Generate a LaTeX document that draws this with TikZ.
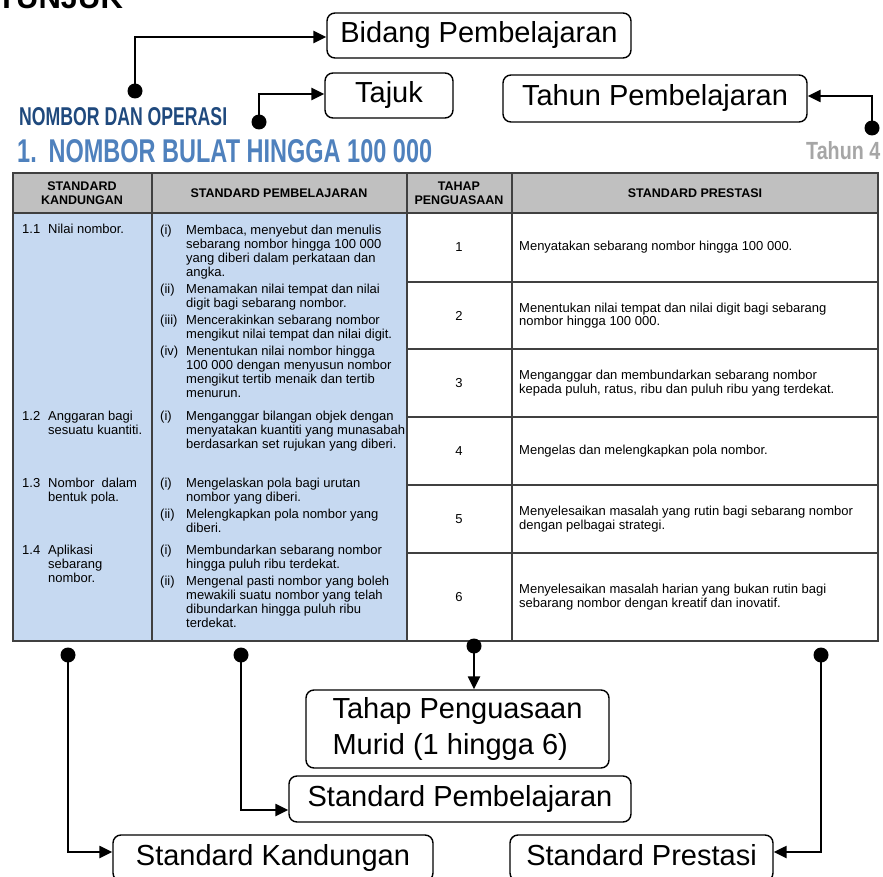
\documentclass[tikz,border=0pt]{standalone}
\usepackage{fontspec}
\usepackage{graphicx}
\setmainfont{Liberation Sans}
\usetikzlibrary{arrows.meta}
\definecolor{hdrgray}{HTML}{C0C0C0}
\definecolor{cellblue}{HTML}{C6D9F1}
\definecolor{darkblue}{HTML}{1F497D}
\definecolor{midblue}{HTML}{4F81BD}
\definecolor{tgray}{HTML}{A6A6A6}
\definecolor{rulegray}{HTML}{404040}
\begin{document}
\begin{tikzpicture}[x=1pt,y=-1pt,
  lbl/.style={draw=black,line width=1.4pt,rounded corners=8pt,font=\fontsize{29}{36}\selectfont,inner sep=0pt,align=center},
  conn/.style={line width=2.4pt,-{Triangle[length=13pt,width=12pt]}},
  dotmark/.style={circle,fill=black,inner sep=0pt,minimum size=15pt},
  body/.style={font=\fontsize{13}{14}\selectfont,inner sep=0pt,anchor=north west},
  pres/.style={font=\fontsize{13}{13.5}\selectfont,inner sep=0pt,anchor=west,align=left},
  num/.style={font=\fontsize{13}{14}\selectfont,inner sep=0pt},
  hdr/.style={font=\fontsize{12.5}{14}\selectfont\bfseries,align=center,inner sep=0pt},
  rule/.style={draw=rulegray,line width=1.3pt}
]
\path[use as bounding box] (0,0) rectangle (883,877);
\clip (0,0) rectangle (883,877);

% top cut-off heading
\node[anchor=base west,inner sep=0pt,font=\fontsize{31}{31}\selectfont\bfseries] (tunjuk) at (-3,9) {TUNJUK};

% titles
\node[anchor=north west,inner sep=0pt,text=darkblue] (sec) at (19,107) {\resizebox{208pt}{18pt}{\bfseries NOMBOR DAN OPERASI}};
\node[anchor=north west,inner sep=0pt,text=midblue] (title) at (17,139) {\resizebox{415pt}{23pt}{\bfseries 1.\enspace NOMBOR BULAT HINGGA 100 000}};
\node[anchor=north west,inner sep=0pt,text=tgray] (tahun4) at (806,141) {\resizebox{74pt}{18pt}{\bfseries Tahun 4}};

% label boxes
\node[lbl,minimum width=304pt,minimum height=45pt] (bidang) at (479,35.5) {Bidang Pembelajaran};
\node[lbl,minimum width=128pt,minimum height=45pt] (tajuk) at (389,95.5) {Tajuk};
\node[lbl,minimum width=304pt,minimum height=47pt] (tahun) at (655,98.5) {Tahun Pembelajaran};
\node[lbl,minimum width=303pt,minimum height=78pt,align=left] (tahap) at (457.5,729) {Tahap Penguasaan\\Murid (1 hingga 6)};
\node[lbl,minimum width=342pt,minimum height=46pt] (spemb) at (460,799) {Standard Pembelajaran};
\node[lbl,minimum width=320pt,minimum height=46pt] (skand) at (273,858) {Standard Kandungan};
\node[lbl,minimum width=263pt,minimum height=46pt] (spres) at (641.5,858) {Standard Prestasi\vphantom{g}};

% table
\fill[hdrgray] (13,173) rectangle (878,213);
\fill[cellblue] (13,213) rectangle (407,641);
\draw[rule] (407,282) -- (878,282);
\draw[rule] (407,349) -- (878,349);
\draw[rule] (407,417) -- (878,417);
\draw[rule] (407,485) -- (878,485);
\draw[rule] (407,553) -- (878,553);
\draw[rule] (13,213) -- (878,213);
\draw[rule] (152,173) -- (152,641);
\draw[rule] (407,173) -- (407,641);
\draw[rule] (512,173) -- (512,641);
\draw[rule] (13,173) rectangle (878,641);

% header
\node[hdr] (h1) at (82,193) {STANDARD\\KANDUNGAN};
\node[hdr] (h2) at (279,193) {STANDARD PEMBELAJARAN};
\node[hdr] (h3) at (459,193) {TAHAP\\PENGUASAAN};
\node[hdr] (h4) at (695,193) {STANDARD PRESTASI};

% column 1
\node[body] (k1) at (22,224) {\begin{tabular}{@{}p{26pt}@{}l@{}}1.1 & Nilai nombor.\end{tabular}};
\node[body] (k2) at (22,410) {\begin{tabular}{@{}p{26pt}@{}l@{}}1.2 & Anggaran bagi\\ & sesuatu kuantiti.\end{tabular}};
\node[body] (k3) at (22,477) {\begin{tabular}{@{}p{26pt}@{}l@{}}1.3 & Nombor\ \ dalam\\ & bentuk pola.\end{tabular}};
\node[body] (k4) at (22,544) {\begin{tabular}{@{}p{26pt}@{}l@{}}1.4 & Aplikasi\\ & sebarang\\ & nombor.\end{tabular}};

% column 2
\node[body] (p1) at (160,224) {\begin{tabular}{@{}p{26pt}@{}l@{}}
(i) & Membaca, menyebut dan menulis\\
 & sebarang nombor hingga 100 000\\
 & yang diberi dalam perkataan dan\\
 & angka.\\[3pt]
(ii) & Menamakan nilai tempat dan nilai\\
 & digit bagi sebarang nombor.\\[3pt]
(iii) & Mencerakinkan sebarang nombor\\
 & mengikut nilai tempat dan nilai digit.\\[3pt]
(iv) & Menentukan nilai nombor hingga\\
 & 100 000 dengan menyusun nombor\\
 & mengikut tertib menaik dan tertib\\
 & menurun.\end{tabular}};
\node[body] (p2) at (160,410) {\begin{tabular}{@{}p{26pt}@{}l@{}}
(i) & Menganggar bilangan objek dengan\\
 & menyatakan kuantiti yang munasabah\\
 & berdasarkan set rujukan yang diberi.\end{tabular}};
\node[body] (p3) at (160,477) {\begin{tabular}{@{}p{26pt}@{}l@{}}
(i) & Mengelaskan pola bagi urutan\\
 & nombor yang diberi.\\[3pt]
(ii) & Melengkapkan pola nombor yang\\
 & diberi.\end{tabular}};
\node[body] (p4) at (160,544) {\begin{tabular}{@{}p{26pt}@{}l@{}}
(i) & Membundarkan sebarang nombor\\
 & hingga puluh ribu terdekat.\\[3pt]
(ii) & Mengenal pasti nombor yang boleh\\
 & mewakili suatu nombor yang telah\\
 & dibundarkan hingga puluh ribu\\
 & terdekat.\end{tabular}};

% column 3
\node[num] (t1) at (459,247.5) {1};
\node[num] (t2) at (459,315.5) {2};
\node[num] (t3) at (459,383) {3};
\node[num] (t4) at (459,451) {4};
\node[num] (t5) at (459,519) {5};
\node[num] (t6) at (459,597) {6};

% column 4
\node[pres] (s1) at (519,247.5) {Menyatakan sebarang nombor hingga 100 000.};
\node[pres] (s2) at (519,315.5) {Menentukan nilai tempat dan nilai digit bagi sebarang\\nombor hingga 100 000.};
\node[pres] (s3) at (519,383) {Menganggar dan membundarkan sebarang nombor\\kepada puluh, ratus, ribu dan puluh ribu yang terdekat.};
\node[pres] (s4) at (519,451) {Mengelas dan melengkapkan pola nombor.};
\node[pres] (s5) at (519,519) {Menyelesaikan masalah yang rutin bagi sebarang nombor\\dengan pelbagai strategi.};
\node[pres] (s6) at (519,597) {Menyelesaikan masalah harian yang bukan rutin bagi\\sebarang nombor dengan kreatif dan inovatif.};

% dots
\node[dotmark] (d1) at (135,91) {};
\node[dotmark] (d2) at (259,122) {};
\node[dotmark] (d3) at (872,128) {};
\node[dotmark] (d4) at (68,655) {};
\node[dotmark] (d5) at (241,655) {};
\node[dotmark] (d6) at (474,646) {};
\node[dotmark] (d7) at (821,655) {};

% connectors
\draw[conn] (d1.center) |- ([yshift=-1.5pt]bidang.west);
\draw[conn] (d2.center) |- ([yshift=1.5pt]tajuk.west);
\draw[conn] (d3.center) |- ([yshift=2.5pt]tahun.east);
\draw[conn] (d4.center) |- ([yshift=6pt]skand.west);
\draw[conn] (d5.center) |- ([yshift=-11pt]spemb.west);
\draw[conn] (d6.center) -- (d6.center |- tahap.north);
\draw[conn] (d7.center) |- ([yshift=6pt]spres.east);
\end{tikzpicture}
\end{document}
